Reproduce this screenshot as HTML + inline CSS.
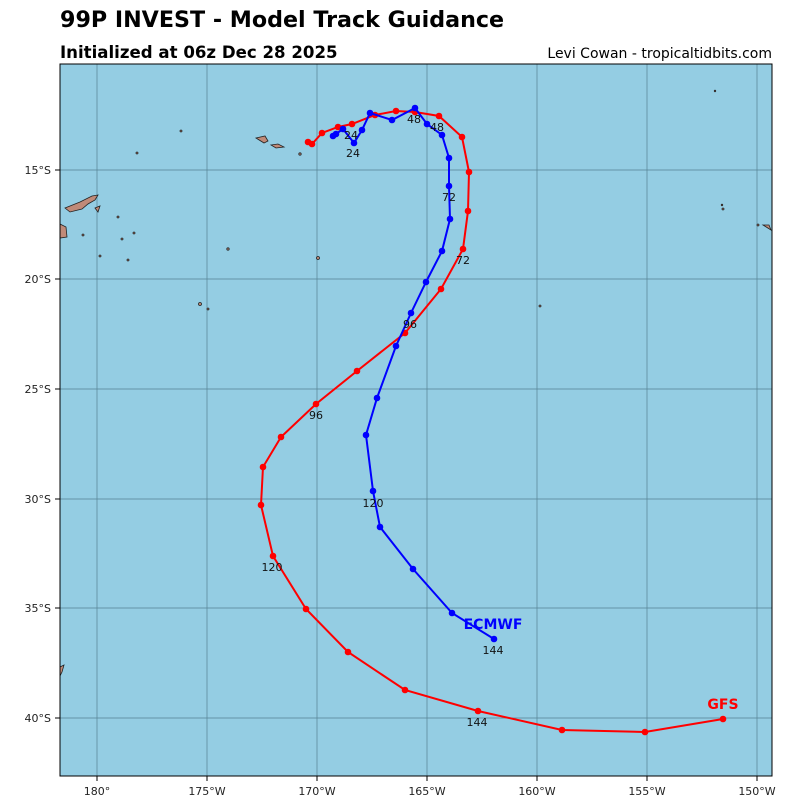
<!DOCTYPE html>
<html><head><style>
body{margin:0;background:#fff;font-family:"Liberation Sans","DejaVu Sans",sans-serif;}
</style></head><body>
<svg width="800" height="800" xmlns="http://www.w3.org/2000/svg" font-family="'DejaVu Sans','Liberation Sans',sans-serif">
<rect width="800" height="800" fill="#fff"/>
<text x="60" y="27" font-size="22.2" font-weight="bold">99P INVEST - Model Track Guidance</text>
<text x="60" y="58" font-size="16.6" font-weight="bold">Initialized at 06z Dec 28 2025</text>
<text x="772" y="58" font-size="14" text-anchor="end">Levi Cowan - tropicaltidbits.com</text>
<rect x="60" y="64" width="712" height="712" fill="#94cde3"/>
<g stroke="#3a6070" stroke-width="0.7" opacity="0.7">
<line x1="97" y1="64" x2="97" y2="776"/><line x1="207" y1="64" x2="207" y2="776"/><line x1="317" y1="64" x2="317" y2="776"/><line x1="427" y1="64" x2="427" y2="776"/><line x1="537" y1="64" x2="537" y2="776"/><line x1="647" y1="64" x2="647" y2="776"/><line x1="757" y1="64" x2="757" y2="776"/>
<line x1="60" y1="170" x2="772" y2="170"/><line x1="60" y1="279" x2="772" y2="279"/><line x1="60" y1="389" x2="772" y2="389"/><line x1="60" y1="499" x2="772" y2="499"/><line x1="60" y1="608" x2="772" y2="608"/><line x1="60" y1="718" x2="772" y2="718"/>
</g>
<g fill="#c08a78" stroke="#222" stroke-width="0.8">
<path d="M65,208 L80,202 L92,196 L98,195 L95,200 L88,204 L82,209 L70,212 Z"/>
<path d="M95,208 L100,206 L98,212 Z"/>
<path d="M60,224 L66,227 L67,237 L60,238 Z"/>
<path d="M256,138 L265,136 L268,141 L264,143 Z"/>
<path d="M271,145 L278,144 L284,147 L276,148 Z"/>
<path d="M60,667 L64,665 L62,672 L60,676 Z"/>
<path d="M763,225 L769,225 L771,230 Z"/>
<circle cx="318" cy="258" r="1.5"/><circle cx="200" cy="304" r="1.5"/><circle cx="208" cy="309" r="1"/>
<circle cx="300" cy="154" r="1.2"/><circle cx="181" cy="131" r="1"/><circle cx="137" cy="153" r="1"/>
<circle cx="118" cy="217" r="1"/><circle cx="122" cy="239" r="1"/><circle cx="134" cy="233" r="1"/><circle cx="128" cy="260" r="1"/><circle cx="100" cy="256" r="1"/><circle cx="83" cy="235" r="1"/><circle cx="723" cy="209" r="1"/><circle cx="228" cy="249" r="1.2"/><circle cx="540" cy="306" r="1"/><circle cx="715" cy="91" r="0.8"/><circle cx="722" cy="205" r="0.8"/><circle cx="758" cy="225" r="1"/>
</g>
<rect x="60" y="64" width="712" height="712" fill="none" stroke="#000" stroke-width="1"/>
<g font-size="11" fill="#222" text-anchor="middle">
<text x="97" y="795">180°</text><text x="207" y="795">175°W</text><text x="317" y="795">170°W</text><text x="427" y="795">165°W</text><text x="537" y="795">160°W</text><text x="647" y="795">155°W</text><text x="757" y="795">150°W</text>
</g>
<g font-size="11" fill="#222" text-anchor="end">
<text x="51" y="174">15°S</text><text x="51" y="283">20°S</text><text x="51" y="393">25°S</text><text x="51" y="503">30°S</text><text x="51" y="612">35°S</text><text x="51" y="722">40°S</text>
</g>
<g stroke="#000"><line x1="55" y1="170" x2="60" y2="170"/><line x1="55" y1="279" x2="60" y2="279"/><line x1="55" y1="389" x2="60" y2="389"/><line x1="55" y1="499" x2="60" y2="499"/><line x1="55" y1="608" x2="60" y2="608"/><line x1="55" y1="718" x2="60" y2="718"/>
<line x1="97" y1="776" x2="97" y2="781"/><line x1="207" y1="776" x2="207" y2="781"/><line x1="317" y1="776" x2="317" y2="781"/><line x1="427" y1="776" x2="427" y2="781"/><line x1="537" y1="776" x2="537" y2="781"/><line x1="647" y1="776" x2="647" y2="781"/><line x1="757" y1="776" x2="757" y2="781"/></g>
<polyline fill="none" stroke="#f00" stroke-width="2" points="308,142 312,144 322,133 338,127 352,124 375,115 396,111 415,112 439,116 462,137 469,172 468,211 463,249 441,289 405,333 357,371 316,404 281,437 263,467 261,505 273,556 306,609 348,652 405,690 478,711 562,730 645,732 723,719"/>
<g fill="#f00"><circle cx="308" cy="142" r="3.3"/><circle cx="312" cy="144" r="3.3"/><circle cx="322" cy="133" r="3.3"/><circle cx="338" cy="127" r="3.3"/><circle cx="352" cy="124" r="3.3"/><circle cx="375" cy="115" r="3.3"/><circle cx="396" cy="111" r="3.3"/><circle cx="415" cy="112" r="3.3"/><circle cx="439" cy="116" r="3.3"/><circle cx="462" cy="137" r="3.3"/><circle cx="469" cy="172" r="3.3"/><circle cx="468" cy="211" r="3.3"/><circle cx="463" cy="249" r="3.3"/><circle cx="441" cy="289" r="3.3"/><circle cx="405" cy="333" r="3.3"/><circle cx="357" cy="371" r="3.3"/><circle cx="316" cy="404" r="3.3"/><circle cx="281" cy="437" r="3.3"/><circle cx="263" cy="467" r="3.3"/><circle cx="261" cy="505" r="3.3"/><circle cx="273" cy="556" r="3.3"/><circle cx="306" cy="609" r="3.3"/><circle cx="348" cy="652" r="3.3"/><circle cx="405" cy="690" r="3.3"/><circle cx="478" cy="711" r="3.3"/><circle cx="562" cy="730" r="3.3"/><circle cx="645" cy="732" r="3.3"/><circle cx="723" cy="719" r="3.3"/></g>
<polyline fill="none" stroke="#00f" stroke-width="2" points="333,136 343,129 354,143 362,130 370,113 392,120 415,108 427,124 442,135 449,158 449,186 450,219 442,251 426,282 411,313 396,346 377,398 366,435 373,491 380,527 413,569 452,613 494,639"/>
<g fill="#00f"><circle cx="333" cy="136" r="3.3"/><circle cx="336" cy="134" r="3.3"/><circle cx="343" cy="129" r="3.3"/><circle cx="354" cy="143" r="3.3"/><circle cx="362" cy="130" r="3.3"/><circle cx="370" cy="113" r="3.3"/><circle cx="392" cy="120" r="3.3"/><circle cx="415" cy="108" r="3.3"/><circle cx="427" cy="124" r="3.3"/><circle cx="442" cy="135" r="3.3"/><circle cx="449" cy="158" r="3.3"/><circle cx="449" cy="186" r="3.3"/><circle cx="450" cy="219" r="3.3"/><circle cx="442" cy="251" r="3.3"/><circle cx="426" cy="282" r="3.3"/><circle cx="411" cy="313" r="3.3"/><circle cx="396" cy="346" r="3.3"/><circle cx="377" cy="398" r="3.3"/><circle cx="366" cy="435" r="3.3"/><circle cx="373" cy="491" r="3.3"/><circle cx="380" cy="527" r="3.3"/><circle cx="413" cy="569" r="3.3"/><circle cx="452" cy="613" r="3.3"/><circle cx="494" cy="639" r="3.3"/></g>
<g font-size="11" fill="#111" text-anchor="middle">
<text x="351" y="139">24</text><text x="353" y="157">24</text><text x="414" y="123">48</text><text x="437" y="131">48</text>
<text x="449" y="201">72</text><text x="463" y="264">72</text><text x="410" y="328">96</text><text x="316" y="419">96</text>
<text x="373" y="507">120</text><text x="272" y="571">120</text><text x="493" y="654">144</text><text x="477" y="726">144</text>
</g>
<text x="493" y="629" font-size="14" font-weight="bold" fill="#00f" text-anchor="middle">ECMWF</text>
<text x="723" y="709" font-size="14" font-weight="bold" fill="#f00" text-anchor="middle">GFS</text>
</svg>
</body></html>
